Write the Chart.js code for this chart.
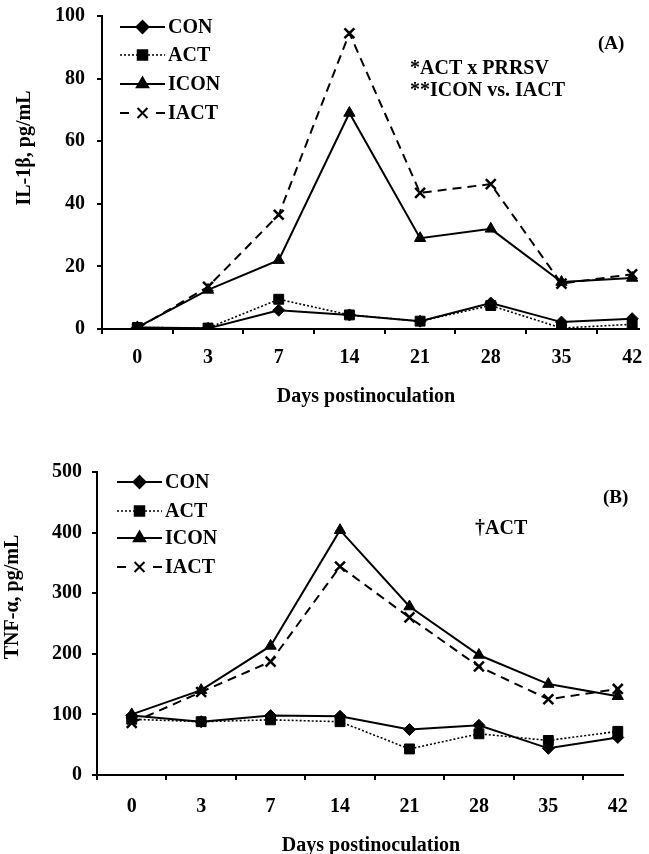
<!DOCTYPE html>
<html>
<head>
<meta charset="utf-8">
<title>IL-1β and TNF-α</title>
<script src="https://cdn.jsdelivr.net/npm/chart.js@4.4.1/dist/chart.umd.min.js"></script>
<style>
    html, body { margin: 0; padding: 0; background: #fff; overflow: hidden; width: 649px; height: 854px; }
    .panel { position: absolute; left: 0; width: 649px; overflow: hidden; }
    #panelA { top: 0; height: 425px; }
    #panelB { top: 440px; height: 414px; }
    canvas { display: block; }
</style>
</head>
<body>
<div class="panel" id="panelA"><canvas id="chartA" width="677" height="425"></canvas></div>
<div class="panel" id="panelB"><canvas id="chartB" width="662" height="414"></canvas></div>
<script>
'use strict';

// days postinoculation
var days = ['0', '3', '7', '14', '21', '28', '35', '42'];
var seriesNames = ['CON', 'ACT', 'ICON', 'IACT'];

// (A) IL-1beta, pg/mL
var il1bCON  = [0.5, 0.2, 6.0, 4.5, 2.5, 8.3, 2.2, 3.3];
var il1bACT  = [0.5, 0.3, 9.5, 4.5, 2.5, 7.5, 0.3, 1.5];
var il1bICON = [0.5, 12.5, 22.0, 69.0, 29.0, 32.0, 15.0, 16.3];
var il1bIACT = [0.2, 13.5, 36.5, 94.5, 43.5, 46.3, 14.5, 17.5];
var il1bTicks = [0, 20, 40, 60, 80, 100];

// (B) TNF-alpha, pg/mL
var tnfCON  = [98, 88, 98, 97, 75, 82, 44, 62];
var tnfACT  = [92, 88, 91, 88, 43, 68, 57, 72];
var tnfICON = [100, 140, 213, 404, 278, 198, 150, 130];
var tnfIACT = [86, 137, 187, 344, 260, 179, 125, 142];
var tnfTicks = [0, 100, 200, 300, 400, 500];

var FONT = "'Liberation Serif', 'Times New Roman', serif";

var styles = [
    { dash: [],     width: 2,   point: 'rectRot',  radius: 6 },
    { dash: [2, 2], width: 1.6, point: 'rect',     radius: 7 },
    { dash: [],     width: 2,   point: 'triangle', radius: 6.5 },
    { dash: [9, 6], width: 2,   point: 'crossRot', radius: 7 }
];

function makeDatasets(lists) {
    return lists.map(function(values, i) {
        var s = styles[i];
        return {
            label: seriesNames[i],
            data: values,
            borderColor: '#000',
            backgroundColor: '#000',
            borderWidth: s.width,
            borderDash: s.dash,
            tension: 0,
            pointStyle: s.point,
            pointRadius: s.radius,
            pointBorderWidth: i === 3 ? 2.5 : 1,
            pointBackgroundColor: '#000',
            pointBorderColor: '#000'
        };
    });
}

// x axis line (cut short like the cropped original), legend, titles and notes
var decorPlugin = {
    id: 'decor',
    afterDraw: function(chart) {
        var o = chart.options.plugins.decor;
        var ctx = chart.ctx;
        var area = chart.chartArea;
        ctx.save();
        ctx.fillStyle = '#000';
        ctx.strokeStyle = '#000';

        ctx.lineWidth = 2;
        ctx.beginPath();
        ctx.moveTo(area.left - 1, area.bottom);
        ctx.lineTo(o.axisEnd, area.bottom);
        ctx.stroke();

        ctx.font = 'bold 20px ' + FONT;
        ctx.textBaseline = 'middle';

        // legend
        chart.data.datasets.forEach(function(ds, i) {
            var y = area.top + o.legendRows[i];
            var x1 = area.left + o.legendX;
            var x2 = x1 + 45;
            ctx.lineWidth = ds.borderWidth;
            ctx.setLineDash(ds.borderDash || []);
            ctx.beginPath();
            if (i === 3) {
                ctx.setLineDash([]);
                ctx.moveTo(x1, y); ctx.lineTo(x1 + 9, y);
                ctx.moveTo(x2 - 9, y); ctx.lineTo(x2, y);
            } else {
                ctx.moveTo(x1, y); ctx.lineTo(x2, y);
            }
            ctx.stroke();
            ctx.setLineDash([]);
            Chart.helpers.drawPoint(ctx, {
                pointStyle: ds.pointStyle,
                radius: ds.pointRadius,
                rotation: 0,
                borderWidth: ds.pointBorderWidth
            }, (x1 + x2) / 2, y);
            ctx.textAlign = 'left';
            ctx.fillText(ds.label, x2 + 3, y + 1);
        });

        // notes
        o.notes.forEach(function(n) {
            ctx.font = 'bold ' + n.size + 'px ' + FONT;
            ctx.textAlign = 'left';
            ctx.fillText(n.text, n.x, n.y);
        });

        // axis titles
        ctx.font = 'bold 20px ' + FONT;
        ctx.textAlign = 'center';
        ctx.fillText(o.xTitle.text, o.xTitle.x, o.xTitle.y);
        ctx.translate(o.yTitle.x, o.yTitle.y);
        ctx.rotate(-Math.PI / 2);
        ctx.fillText(o.yTitle.text, 0, 0);
        ctx.restore();
    }
};

function makeChart(canvasId, cfg) {
    var ctx = document.getElementById(canvasId).getContext('2d');
    return new Chart(ctx, {
        type: 'line',
        data: { labels: days, datasets: makeDatasets(cfg.series) },
        plugins: [decorPlugin],
        options: {
            responsive: false,
            animation: false,
            layout: { padding: { top: cfg.top, left: 0, right: 0, bottom: 0 } },
            plugins: {
                legend: { display: false },
                tooltip: { enabled: false },
                decor: cfg.decor
            },
            scales: {
                x: {
                    type: 'category',
                    offset: true,
                    grid: { offset: true, drawOnChartArea: false, drawTicks: true, tickLength: 5, color: '#000', lineWidth: 2 },
                    border: { display: false },
                    ticks: { color: '#000', padding: cfg.xPad, font: { family: FONT, size: 20, weight: 'bold' }, maxRotation: 0 },
                    afterFit: function(scale) {
                        scale.height = cfg.xHeight;
                        scale.paddingLeft = 0;
                        scale.paddingRight = 0;
                    }
                },
                y: {
                    min: cfg.ticks[0],
                    max: cfg.ticks[cfg.ticks.length - 1],
                    grid: { drawOnChartArea: false, drawTicks: true, tickLength: 5, color: '#000', lineWidth: 2 },
                    border: { display: true, color: '#000', width: 2 },
                    ticks: { color: '#000', padding: cfg.yPad, font: { family: FONT, size: 20, weight: 'bold' } },
                    afterBuildTicks: function(scale) {
                        scale.ticks = cfg.ticks.map(function(v) { return { value: v }; });
                    },
                    afterFit: function(scale) {
                        scale.width = cfg.yWidth;
                        scale.paddingTop = 0;
                        scale.paddingBottom = 0;
                    }
                }
            }
        }
    });
}

makeChart('chartA', {
    series: [il1bCON, il1bACT, il1bICON, il1bIACT],
    ticks: il1bTicks,
    top: 16, xHeight: 96, yWidth: 102, xPad: 12, yPad: 12,
    decor: {
        axisEnd: 640,
        legendX: 18,
        legendRows: [11, 39, 68, 97],
        notes: [
            { text: '(A)', x: 598, y: 44, size: 19 },
            { text: '*ACT x PRRSV', x: 410, y: 69, size: 20 },
            { text: '**ICON vs. IACT', x: 410, y: 91, size: 20 }
        ],
        xTitle: { text: 'Days postinoculation', x: 366, y: 397 },
        yTitle: { text: 'IL-1β, pg/mL', x: 25, y: 148 }
    }
});

makeChart('chartB', {
    series: [tnfCON, tnfACT, tnfICON, tnfIACT],
    ticks: tnfTicks,
    top: 32, xHeight: 79, yWidth: 97, xPad: 15, yPad: 10,
    decor: {
        axisEnd: 624,
        legendX: 20,
        legendRows: [10, 39, 66, 95],
        notes: [
            { text: '(B)', x: 603, y: 58, size: 19 },
            { text: '†ACT', x: 475, y: 89, size: 20 }
        ],
        xTitle: { text: 'Days postinoculation', x: 371, y: 406 },
        yTitle: { text: 'TNF-α, pg/mL', x: 13, y: 157 }
    }
});
</script>
</body>
</html>
